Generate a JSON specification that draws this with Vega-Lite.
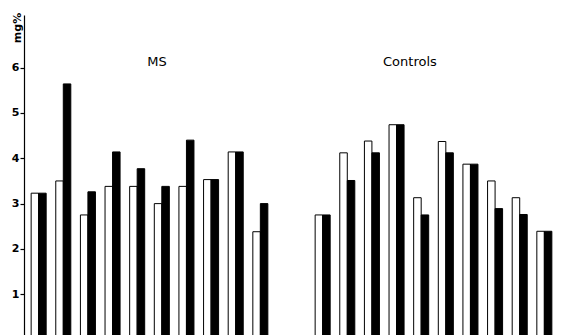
{
  "$schema": "https://vega.github.io/schema/vega-lite/v6.json",
  "padding": {"left": 11, "top": 12, "right": 0, "bottom": 0},
  "background": "white",
  "data": {
    "values": [
      {"group": "MS", "pair": 1, "kind": "a", "value": 3.23},
      {"group": "MS", "pair": 1, "kind": "b", "value": 3.23},
      {"group": "MS", "pair": 2, "kind": "a", "value": 3.50},
      {"group": "MS", "pair": 2, "kind": "b", "value": 5.64},
      {"group": "MS", "pair": 3, "kind": "a", "value": 2.75},
      {"group": "MS", "pair": 3, "kind": "b", "value": 3.26},
      {"group": "MS", "pair": 4, "kind": "a", "value": 3.38},
      {"group": "MS", "pair": 4, "kind": "b", "value": 4.14},
      {"group": "MS", "pair": 5, "kind": "a", "value": 3.38},
      {"group": "MS", "pair": 5, "kind": "b", "value": 3.77},
      {"group": "MS", "pair": 6, "kind": "a", "value": 3.00},
      {"group": "MS", "pair": 6, "kind": "b", "value": 3.38},
      {"group": "MS", "pair": 7, "kind": "a", "value": 3.38},
      {"group": "MS", "pair": 7, "kind": "b", "value": 4.40},
      {"group": "MS", "pair": 8, "kind": "a", "value": 3.53},
      {"group": "MS", "pair": 8, "kind": "b", "value": 3.53},
      {"group": "MS", "pair": 9, "kind": "a", "value": 4.14},
      {"group": "MS", "pair": 9, "kind": "b", "value": 4.14},
      {"group": "MS", "pair": 10, "kind": "a", "value": 2.38},
      {"group": "MS", "pair": 10, "kind": "b", "value": 3.00},
      {"group": "Controls", "pair": 1, "kind": "a", "value": 2.75},
      {"group": "Controls", "pair": 1, "kind": "b", "value": 2.75},
      {"group": "Controls", "pair": 2, "kind": "a", "value": 4.12},
      {"group": "Controls", "pair": 2, "kind": "b", "value": 3.51},
      {"group": "Controls", "pair": 3, "kind": "a", "value": 4.38},
      {"group": "Controls", "pair": 3, "kind": "b", "value": 4.12},
      {"group": "Controls", "pair": 4, "kind": "a", "value": 4.74},
      {"group": "Controls", "pair": 4, "kind": "b", "value": 4.74},
      {"group": "Controls", "pair": 5, "kind": "a", "value": 3.13},
      {"group": "Controls", "pair": 5, "kind": "b", "value": 2.75},
      {"group": "Controls", "pair": 6, "kind": "a", "value": 4.37},
      {"group": "Controls", "pair": 6, "kind": "b", "value": 4.12},
      {"group": "Controls", "pair": 7, "kind": "a", "value": 3.87},
      {"group": "Controls", "pair": 7, "kind": "b", "value": 3.87},
      {"group": "Controls", "pair": 8, "kind": "a", "value": 3.50},
      {"group": "Controls", "pair": 8, "kind": "b", "value": 2.89},
      {"group": "Controls", "pair": 9, "kind": "a", "value": 3.13},
      {"group": "Controls", "pair": 9, "kind": "b", "value": 2.76},
      {"group": "Controls", "pair": 10, "kind": "a", "value": 2.39},
      {"group": "Controls", "pair": 10, "kind": "b", "value": 2.39}
    ]
  },
  "spacing": 33,
  "hconcat": [
    {
      "width": 251,
      "height": 321,
      "title": {"text": "MS", "frame": "group", "anchor": "middle", "baseline": "middle", "offset": -62.5, "dx": 7.5},
      "transform": [{"filter": "datum.group === 'MS'"}],
      "mark": {"type": "bar", "stroke": "black", "strokeWidth": 1},
      "encoding": {
        "x": {"field": "pair", "type": "ordinal", "axis": null, "scale": {"paddingInner": 0.39, "paddingOuter": 0.29}},
        "xOffset": {"field": "kind", "type": "nominal", "scale": {"paddingInner": 0, "paddingOuter": 0}},
        "y": {
          "field": "value", "type": "quantitative",
          "scale": {"domain": [0.08, 7.16], "zero": false, "nice": false, "clamp": true},
          "axis": {
            "title": "mg%", "values": [1, 2, 3, 4, 5, 6], "grid": false,
            "titleAngle": -90, "titleX": -3.5, "titleY": 12.5, "titleAlign": "center", "titleBaseline": "alphabetic",
            "titleFont": "DejaVu Sans", "titleFontSize": 11, "titleFontWeight": "bold", "titleColor": "black"
          }
        },
        "fill": {"field": "kind", "type": "nominal", "scale": {"domain": ["a", "b"], "range": ["white", "black"]}, "legend": null}
      }
    },
    {
      "width": 251,
      "height": 321,
      "title": {"text": "Controls", "frame": "group", "anchor": "middle", "baseline": "middle", "offset": -60, "dx": -23.6},
      "transform": [{"filter": "datum.group === 'Controls'"}],
      "mark": {"type": "bar", "stroke": "black", "strokeWidth": 1},
      "encoding": {
        "x": {"field": "pair", "type": "ordinal", "axis": null, "scale": {"paddingInner": 0.39, "paddingOuter": 0.29}},
        "xOffset": {"field": "kind", "type": "nominal", "scale": {"paddingInner": 0, "paddingOuter": 0}},
        "y": {
          "field": "value", "type": "quantitative",
          "scale": {"domain": [0.08, 7.16], "zero": false, "nice": false, "clamp": true},
          "axis": null
        },
        "fill": {"field": "kind", "type": "nominal", "scale": {"domain": ["a", "b"], "range": ["white", "black"]}, "legend": null}
      }
    }
  ],
  "config": {
    "view": {"stroke": null},
    "axis": {
      "labelFont": "DejaVu Sans", "labelFontSize": 11, "labelFontWeight": "bold", "labelColor": "black",
      "tickColor": "black", "tickSize": 4, "labelPadding": 1,
      "domainColor": "black", "domainWidth": 1.2, "tickWidth": 1.2
    },
    "title": {"font": "DejaVu Sans", "fontSize": 13, "fontWeight": "normal", "color": "black"}
  }
}
